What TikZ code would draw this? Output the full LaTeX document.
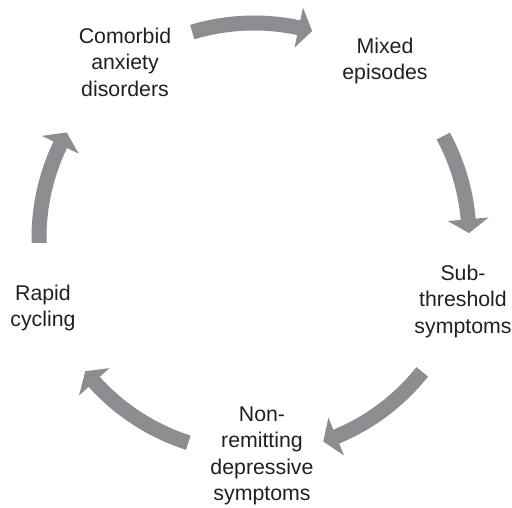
\documentclass[tikz,border=0pt]{standalone}
\usepackage{fontspec}
\setmainfont{Liberation Sans}
\definecolor{arrgray}{HTML}{8C8D90}
\definecolor{txtgray}{HTML}{231F20}
\tikzset{
  label/.style={align=center, text=txtgray, font=\fontsize{21.3}{26.5}\selectfont, inner sep=0pt},
  shaft/.style={draw=arrgray, line width=15pt, line cap=butt},
  headfill/.style={fill=arrgray}
}
\newcommand\cycarrow[2]{%
  \draw[shaft] ([shift={(O)}]#1:215) arc[start angle=#1, end angle=#2+3.2, radius=215];
  \fill[headfill] ([shift={(O)}]#2+3.7:235.5) -- ([shift={(O)}]#2:215) -- ([shift={(O)}]#2+3.7:194.5) -- cycle;
}
\begin{document}
\begin{tikzpicture}[x=1pt,y=1pt]
\useasboundingbox (0,0) rectangle (512,507);
\coordinate (O) at (254,269);
\node[label] (como) at (125,445) {Comorbid\\anxiety\\disorders};
\node[label] (mixed) at (385,446) {Mixed\\episodes};
\node[label] (sub) at (463,206) {Sub-\\threshold\\symptoms};
\node[label] (non) at (262,51) {Non-\\remitting\\depressive\\symptoms};
\node[label] (rapid) at (43,199) {Rapid\\cycling};
\cycarrow{106.7}{74.3}
\cycarrow{28.3}{1.3}
\cycarrow{-38.5}{-71.2}
\cycarrow{-107.8}{-141.7}
\cycarrow{181.3}{150.6}
\end{tikzpicture}
\end{document}
